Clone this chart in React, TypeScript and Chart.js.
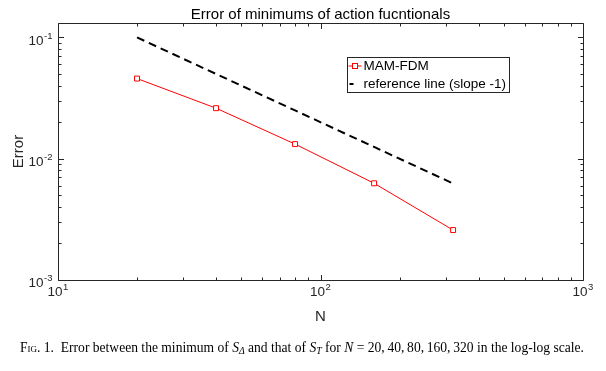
import React, { useEffect, useRef } from "react";
import { Chart, registerables } from "chart.js";

Chart.register(...registerables);

// ---- data ----
const nValues = [20, 40, 80, 160, 320];
const mamFdmError = [0.0458, 0.0261, 0.0132, 0.00627, 0.00258];
const referenceError = [0.1, 0.05, 0.025, 0.0125, 0.00625];
const seriesLabels = ["MAM-FDM", "reference line (slope -1)"];
const xTickExponents = [1, 2, 3];
const yTickExponents = [-3, -2, -1];
const titleText = "Error of minimums of action fucntionals";
const xAxisLabel = "N";
const yAxisLabel = "Error";

const X_MIN = 10;
const X_MAX = 1000;
const Y_MIN = 0.001;
const Y_MAX = 0.1315;

const FONT = '"Liberation Sans", Arial, Helvetica, sans-serif';
const AXIS_COLOR = "#262626";

function supLabel(exp: number) {
  return exp < 0 ? "-" + Math.abs(exp) : String(exp);
}

function drawPow(
  ctx: CanvasRenderingContext2D,
  exp: number,
  x: number,
  baseY: number,
  align: "center" | "right"
) {
  const base = "10";
  const sup = supLabel(exp);
  ctx.font = `13.5px ${FONT}`;
  const w1 = ctx.measureText(base).width;
  ctx.font = `9.5px ${FONT}`;
  const w2 = ctx.measureText(sup).width;
  const total = w1 + w2 + 0.5;
  const start = align === "center" ? x - total / 2 : x - total;
  ctx.textAlign = "left";
  ctx.textBaseline = "alphabetic";
  ctx.font = `13.5px ${FONT}`;
  ctx.fillText(base, start, baseY);
  ctx.font = `9.5px ${FONT}`;
  ctx.fillText(sup, start + w1 + 0.5, baseY - 6);
}

const matlabAxes = {
  id: "matlabAxes",
  afterDatasetsDraw(chart: any) {
    const { ctx, chartArea: a, scales } = chart;
    const xs = scales.x;
    const ys = scales.y;
    const L = Math.floor(a.left) + 0.5;
    const R = Math.floor(a.right) + 0.5;
    const T = Math.floor(a.top) + 0.5;
    const B = Math.floor(a.bottom) + 0.5;
    ctx.save();
    ctx.strokeStyle = AXIS_COLOR;
    ctx.fillStyle = AXIS_COLOR;
    ctx.lineWidth = 1;
    ctx.setLineDash([]);
    ctx.beginPath();
    ctx.rect(L, T, R - L, B - T);
    ctx.stroke();

    const MAJ = 5.5;
    const MIN = 3;
    // x ticks
    ctx.beginPath();
    for (let i = 0; i < xTickExponents.length; i++) {
      const e = xTickExponents[i];
      for (let k = 1; k <= 9; k++) {
        const v = k * Math.pow(10, e);
        if (v < X_MIN - 1e-9 || v > X_MAX + 1e-9) continue;
        const px = Math.round(xs.getPixelForValue(v)) + 0.5;
        const len = k === 1 ? MAJ : MIN;
        ctx.moveTo(px, B);
        ctx.lineTo(px, B - len);
        ctx.moveTo(px, T);
        ctx.lineTo(px, T + len);
      }
    }
    // y ticks
    for (let i = 0; i < yTickExponents.length; i++) {
      const e = yTickExponents[i];
      for (let k = 1; k <= 9; k++) {
        const v = k * Math.pow(10, e);
        if (v < Y_MIN * 0.9999 || v > Y_MAX) continue;
        const py = Math.round(ys.getPixelForValue(v)) + 0.5;
        const len = k === 1 ? MAJ : MIN;
        ctx.moveTo(L, py);
        ctx.lineTo(L + len, py);
        ctx.moveTo(R, py);
        ctx.lineTo(R - len, py);
      }
    }
    ctx.stroke();

    // tick labels
    ctx.fillStyle = "#262626";
    for (const e of xTickExponents) {
      const px = xs.getPixelForValue(Math.pow(10, e));
      drawPow(ctx, e, px, B + 15, "center");
    }
    for (const e of yTickExponents) {
      const py = ys.getPixelForValue(Math.pow(10, e));
      drawPow(ctx, e, L - 6, py + 7.4, "right");
    }

    // axis titles
    ctx.font = `15px ${FONT}`;
    ctx.textAlign = "center";
    ctx.textBaseline = "middle";
    ctx.fillText(xAxisLabel, (a.left + a.right) / 2, 316.5);
    ctx.save();
    ctx.translate(18.5, (a.top + a.bottom) / 2);
    ctx.rotate(-Math.PI / 2);
    ctx.fillText(yAxisLabel, 0, 0);
    ctx.restore();

    // title
    ctx.fillStyle = "#000";
    ctx.textBaseline = "alphabetic";
    ctx.fillText(titleText, (a.left + a.right) / 2, 18.5);

    // legend
    const ds = chart.data.datasets;
    ctx.font = `13.5px ${FONT}`;
    let maxW = 0;
    for (const d of ds) maxW = Math.max(maxW, ctx.measureText(d.label).width);
    const lx = 347.5;
    const ly = 57.5;
    const textX = lx + 16;
    const lw = Math.round(textX - lx + maxW + 3);
    const lh = 35;
    ctx.fillStyle = "#fff";
    ctx.fillRect(lx, ly, lw, lh);
    ctx.strokeStyle = AXIS_COLOR;
    ctx.lineWidth = 1;
    ctx.strokeRect(lx, ly, lw, lh);
    const rows = [ly + 8.5, ly + 26.5];
    ds.forEach((d: any, i: number) => {
      const cy = rows[i];
      ctx.strokeStyle = d.borderColor;
      ctx.lineWidth = d.borderWidth;
      ctx.beginPath();
      if (i === 0) {
        ctx.moveTo(lx + 1, cy);
        ctx.lineTo(lx + 14, cy);
        ctx.stroke();
        const s = 5;
        ctx.fillStyle = d.pointBackgroundColor;
        ctx.fillRect(lx + 7.5 - s / 2, cy - s / 2, s, s);
        ctx.lineWidth = 1;
        ctx.strokeRect(lx + 7.5 - s / 2, cy - s / 2, s, s);
      } else {
        ctx.moveTo(lx + 2, cy);
        ctx.lineTo(lx + 6, cy);
        ctx.stroke();
      }
      ctx.fillStyle = "#000";
      ctx.textAlign = "left";
      ctx.textBaseline = "middle";
      ctx.font = `13.5px ${FONT}`;
      ctx.fillText(d.label, textX, cy + 0.5);
    });
    ctx.restore();
  },
};

export default function App() {
  const canvasRef = useRef<HTMLCanvasElement | null>(null);

  useEffect(() => {
    const canvas = canvasRef.current;
    if (!canvas) return;
    const chart = new Chart(canvas, {
      type: "line",
      data: {
        datasets: [
          {
            label: seriesLabels[0],
            data: nValues.map((n, i) => ({ x: n, y: mamFdmError[i] })),
            borderColor: "#ff0000",
            borderWidth: 1,
            pointStyle: "rect",
            pointRadius: 3.5,
            pointBorderWidth: 1,
            pointBorderColor: "#ff0000",
            pointBackgroundColor: "#ffffff",
            tension: 0,
          },
          {
            label: seriesLabels[1],
            data: nValues.map((n, i) => ({ x: n, y: referenceError[i] })),
            borderColor: "#000000",
            borderWidth: 2,
            borderDash: [8, 5],
            pointRadius: 0,
            tension: 0,
          },
        ],
      },
      options: {
        animation: false,
        responsive: false,
        devicePixelRatio: 1,
        layout: { padding: { left: 58, right: 23, top: 23, bottom: 91 } },
        scales: {
          x: { type: "logarithmic", min: X_MIN, max: X_MAX, display: false },
          y: { type: "logarithmic", min: Y_MIN, max: Y_MAX, display: false },
        },
        plugins: {
          legend: { display: false },
          tooltip: { enabled: false },
          title: { display: false },
        },
      },
      plugins: [matlabAxes],
    });
    return () => chart.destroy();
  }, []);

  const cap: React.CSSProperties = {
    position: "absolute",
    left: 20,
    top: 340,
    fontFamily: '"Liberation Serif", "Times New Roman", Times, serif',
    fontSize: 13.57,
    color: "#000",
    whiteSpace: "nowrap",
    lineHeight: "16px",
  };
  const sub: React.CSSProperties = { fontSize: "0.72em", verticalAlign: "-0.25em", lineHeight: 0 };

  return (
    <div style={{ position: "fixed", left: 0, top: 0, width: 606, height: 371, background: "#fff", overflow: "hidden" }}>
      <canvas ref={canvasRef} width={606} height={371} style={{ display: "block", width: 606, height: 371 }} />
      <div style={cap}>
        <span style={{ fontVariant: "small-caps" }}>Fig. 1.</span>
        {"\u2002Error between the minimum of "}
        <i>S</i>
        <span style={sub}><i>Δ</i></span>
        {" and that of "}
        <i>S</i>
        <span style={sub}><i>T</i></span>
        {" for "}
        <i>N</i>
        {" = 20,\u200940,\u200980,\u2009160,\u2009320 in the log-log scale."}
      </div>
    </div>
  );
}
